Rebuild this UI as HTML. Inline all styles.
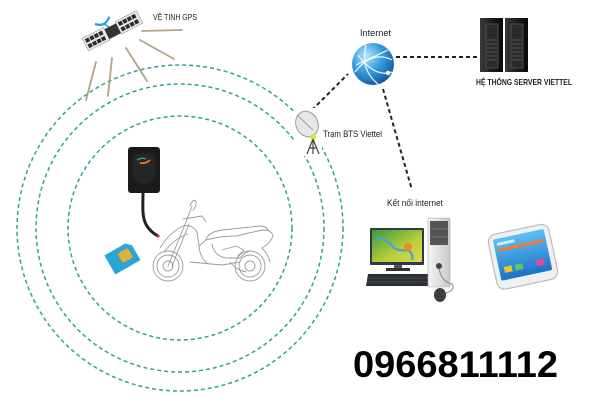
<!DOCTYPE html>
<html><head><meta charset="utf-8"><style>
html,body{margin:0;padding:0;background:#fff;}
svg{display:block;}
text{font-family:"Liberation Sans","DejaVu Sans",sans-serif;}
</style></head><body>
<svg width="610" height="403" viewBox="0 0 610 403" xmlns="http://www.w3.org/2000/svg">
<defs>
<radialGradient id="glb" cx="0.35" cy="0.3" r="0.8">
<stop offset="0" stop-color="#b8e6fb"/><stop offset="0.45" stop-color="#3b9fe0"/><stop offset="1" stop-color="#0d4f93"/>
</radialGradient>
<linearGradient id="srv" x1="0" x2="1">
<stop offset="0" stop-color="#3a3a3a"/><stop offset="0.5" stop-color="#1c1c1c"/><stop offset="1" stop-color="#0a0a0a"/>
</linearGradient>
<linearGradient id="scr" x1="0" y1="0" x2="1" y2="1">
<stop offset="0" stop-color="#3a9a3a"/><stop offset="0.6" stop-color="#b9cf3c"/><stop offset="1" stop-color="#e2d84a"/>
</linearGradient>
<linearGradient id="ph" x1="0" y1="0" x2="0" y2="1">
<stop offset="0" stop-color="#5ec0f0"/><stop offset="1" stop-color="#1a73c8"/>
</linearGradient>
<linearGradient id="tw" x1="0" x2="1">
<stop offset="0" stop-color="#f4f4f4"/><stop offset="1" stop-color="#c9c9c9"/>
</linearGradient>
</defs>

<!-- dashed teal circles -->
<g fill="none" stroke="#2aa39b" stroke-width="1.5" stroke-dasharray="4 3">
<circle cx="180" cy="228" r="163"/>
<circle cx="180" cy="228" r="144"/>
<circle cx="180" cy="228" r="112"/>
</g>

<!-- GPS rays -->
<g stroke="#a8936a" stroke-width="1.8" stroke-linecap="round" opacity="0.85">
<line x1="142" y1="31" x2="182" y2="30"/>
<line x1="140" y1="40" x2="174" y2="59"/>
<line x1="126" y1="48" x2="147" y2="81"/>
<line x1="112" y1="58" x2="108" y2="96"/>
<line x1="96" y1="62" x2="86" y2="100"/>
</g>

<!-- satellite -->
<g transform="translate(112,31) rotate(-27)">
<rect x="-30" y="-7" width="24" height="14" fill="#e9e9e9" stroke="#999" stroke-width="0.6"/>
<rect x="7" y="-7" width="24" height="14" fill="#e9e9e9" stroke="#999" stroke-width="0.6"/>
<g fill="#2b2b2b">
<rect x="-28" y="-5" width="4" height="4"/><rect x="-23" y="-5" width="4" height="4"/><rect x="-18" y="-5" width="4" height="4"/><rect x="-13" y="-5" width="4" height="4"/>
<rect x="-28" y="1" width="4" height="4"/><rect x="-23" y="1" width="4" height="4"/><rect x="-18" y="1" width="4" height="4"/><rect x="-13" y="1" width="4" height="4"/>
<rect x="9" y="-5" width="4" height="4"/><rect x="14" y="-5" width="4" height="4"/><rect x="19" y="-5" width="4" height="4"/><rect x="24" y="-5" width="4" height="4"/>
<rect x="9" y="1" width="4" height="4"/><rect x="14" y="1" width="4" height="4"/><rect x="19" y="1" width="4" height="4"/><rect x="24" y="1" width="4" height="4"/>
</g>
<rect x="-6" y="-5" width="13" height="11" fill="#333"/>
<path d="M-12 -14 Q-4 -6 4 -14" fill="none" stroke="#2a9ad6" stroke-width="2.2"/>
<line x1="-4" y1="-10" x2="-1" y2="-5" stroke="#2a9ad6" stroke-width="1.5"/>
</g>
<text x="153" y="20" font-size="8.5" fill="#222" textLength="44" lengthAdjust="spacingAndGlyphs">VỆ TINH GPS</text>

<!-- internet globe -->
<text x="360" y="36" font-size="9" fill="#222" textLength="31" lengthAdjust="spacingAndGlyphs">Internet</text>
<circle cx="373" cy="64" r="21" fill="url(#glb)"/>
<g fill="none" stroke="#fff" stroke-width="1.2" opacity="0.9">
<path d="M355 72 Q372 50 392 60"/>
<path d="M358 55 Q375 78 392 72"/>
<path d="M366 45 Q360 70 378 84"/>
<path d="M356 65 L388 50"/>
</g>
<circle cx="388" cy="73" r="2.2" fill="#fff"/>

<!-- black dashed connectors -->
<g stroke="#222" stroke-width="2" stroke-dasharray="4 3" fill="none">
<line x1="396" y1="57" x2="480" y2="57"/>
<line x1="312" y1="110" x2="348" y2="74"/>
<line x1="383" y1="89" x2="412" y2="190"/>
</g>

<!-- server -->
<rect x="480" y="18" width="23" height="54" fill="url(#srv)"/>
<rect x="505" y="18" width="23" height="54" fill="url(#srv)"/>
<g stroke="#6a6a6a" stroke-width="0.6">
<rect x="486" y="24" width="12" height="44" fill="#2a2a2a"/>
<rect x="511" y="24" width="12" height="44" fill="#2a2a2a"/>
<line x1="487" y1="40" x2="497" y2="40"/><line x1="487" y1="44" x2="497" y2="44"/><line x1="487" y1="48" x2="497" y2="48"/><line x1="487" y1="52" x2="497" y2="52"/><line x1="487" y1="56" x2="497" y2="56"/><line x1="487" y1="60" x2="497" y2="60"/>
<line x1="512" y1="40" x2="522" y2="40"/><line x1="512" y1="44" x2="522" y2="44"/><line x1="512" y1="48" x2="522" y2="48"/><line x1="512" y1="52" x2="522" y2="52"/><line x1="512" y1="56" x2="522" y2="56"/><line x1="512" y1="60" x2="522" y2="60"/>
</g>
<text x="476" y="85" font-size="8.5" fill="#222" font-weight="bold" textLength="96" lengthAdjust="spacingAndGlyphs">HỆ THỐNG SERVER VIETTEL</text>

<!-- BTS -->
<rect x="294" y="108" width="28" height="48" fill="#fff"/>
<ellipse cx="307" cy="124" rx="11" ry="13" transform="rotate(-25 307 124)" fill="#e6e6e6" stroke="#9a9a9a" stroke-width="1"/>
<line x1="297" y1="115" x2="313" y2="130" stroke="#888" stroke-width="0.8"/>
<circle cx="313" cy="137" r="3" fill="#d6e82a"/>
<path d="M313 139 L307 154 M313 139 L319 154 M313 139 L313 154 M309 148 L317 148" stroke="#444" stroke-width="1.2" fill="none"/>
<text x="323" y="137" font-size="9" fill="#222" textLength="59" lengthAdjust="spacingAndGlyphs">Trạm BTS Viettel</text>

<!-- Ket noi internet -->
<text x="387" y="206" font-size="9" fill="#222" textLength="56" lengthAdjust="spacingAndGlyphs">Kết nối internet</text>

<!-- computer -->
<rect x="370" y="228" width="54" height="37" rx="1" fill="#2e3a46"/>
<rect x="372" y="230" width="50" height="32" fill="url(#scr)"/>
<path d="M375 240 Q385 236 392 246 Q398 252 408 250 Q414 254 412 260" stroke="#4aa0d8" stroke-width="2.2" fill="none"/>
<circle cx="408" cy="247" r="4" fill="#f08a1c"/>
<rect x="394" y="265" width="8" height="4" fill="#555"/>
<rect x="386" y="268" width="24" height="3" fill="#333"/>
<path d="M368 274 L428 274 L430 286 L366 286 Z" fill="#2b2f33"/>
<g stroke="#666" stroke-width="0.5"><line x1="368" y1="278" x2="428" y2="278"/><line x1="367" y1="282" x2="429" y2="282"/></g>
<rect x="428" y="218" width="22" height="69" rx="1.5" fill="url(#tw)" stroke="#aaa" stroke-width="0.6"/>
<rect x="430" y="221" width="18" height="24" fill="#555"/>
<g stroke="#888" stroke-width="0.5"><line x1="430" y1="229" x2="448" y2="229"/><line x1="430" y1="237" x2="448" y2="237"/></g>
<circle cx="439" cy="266" r="3" fill="#444"/>
<path d="M439 269 Q442 282 452 284 Q456 290 446 293" stroke="#888" stroke-width="1" fill="none"/>
<ellipse cx="440" cy="295" rx="6" ry="7" fill="#3c4043"/>

<!-- phone -->
<g transform="rotate(-12 522 257)">
<rect x="492" y="229" width="62" height="56" rx="8" fill="#eef0f2" stroke="#b9bcc0" stroke-width="1.2"/>
<rect x="497" y="234" width="52" height="42" rx="2" fill="url(#ph)"/>
<rect x="500" y="244" width="46" height="3" fill="#f07a3a"/>
<rect x="500" y="238" width="18" height="3" fill="#cde9fa"/>
<g><rect x="502" y="263" width="8" height="6" fill="#f2c230"/><rect x="513" y="263" width="8" height="6" fill="#5ac85a"/><rect x="524" y="263" width="8" height="6" fill="#3a7ee0"/><rect x="535" y="263" width="8" height="6" fill="#e04a9a"/></g>
</g>

<!-- GPS device -->
<rect x="128" y="147" width="32" height="46" rx="3" fill="#1b1b1b"/>
<path d="M133 155 Q144 151 155 155 L155 178 Q150 184 144 184 Q138 184 133 178 Z" fill="#262626"/>
<path d="M137 160 Q142 157 146 159" stroke="#2aa39b" stroke-width="1.5" fill="none"/>
<path d="M140 163 Q146 164 150 160" stroke="#f07a1c" stroke-width="1.8" fill="none"/>
<path d="M143 193 C143 212 140 226 158 236" stroke="#222" stroke-width="3" fill="none"/>
<circle cx="158" cy="236" r="1.5" fill="#c23"/>

<!-- SIM card -->
<g transform="rotate(-30 122 258)">
<path d="M108 247 L132 247 L137 252 L137 269 L108 269 Z" fill="#2aa5d8"/>
<rect x="120" y="252" width="12" height="11" rx="1.5" fill="#d6b24a" stroke="#b8923a" stroke-width="0.5"/>
</g>

<!-- motorcycle line art -->
<g fill="none" stroke="#9a9a9a" stroke-width="0.9" stroke-linejoin="round" stroke-linecap="round">
<circle cx="168" cy="266" r="15"/>
<circle cx="168" cy="266" r="11"/>
<circle cx="168" cy="266" r="5"/>
<circle cx="250" cy="266" r="15"/>
<circle cx="250" cy="266" r="11"/>
<circle cx="250" cy="266" r="5"/>
<path d="M168 266 L186 222 L192 206"/>
<path d="M172 266 L189 224"/>
<path d="M190 206 Q193 198 196 201 Q197 206 193 210"/>
<path d="M183 219 L202 216 L206 222"/>
<path d="M160 248 Q170 232 183 226 Q192 224 197 232 L199 246 Q200 258 208 264"/>
<path d="M164 252 Q175 238 188 234"/>
<path d="M190 262 L222 265 L240 262"/>
<path d="M199 246 L206 240 Q220 236 236 236 L262 230 Q272 230 273 236 Q270 244 262 248"/>
<path d="M206 240 Q208 232 222 230 L260 226 Q266 226 268 230"/>
<path d="M212 244 Q214 256 226 258 L240 258 Q246 252 250 251"/>
<path d="M262 248 Q268 254 270 262"/>
<path d="M222 250 L236 246 L244 250 L238 256"/>
<path d="M230 262 Q236 270 246 272"/>
</g>

<!-- phone number -->
<text x="353" y="377" font-size="37" font-weight="bold" fill="#000" textLength="205" lengthAdjust="spacingAndGlyphs">0966811112</text>
</svg>
</body></html>
